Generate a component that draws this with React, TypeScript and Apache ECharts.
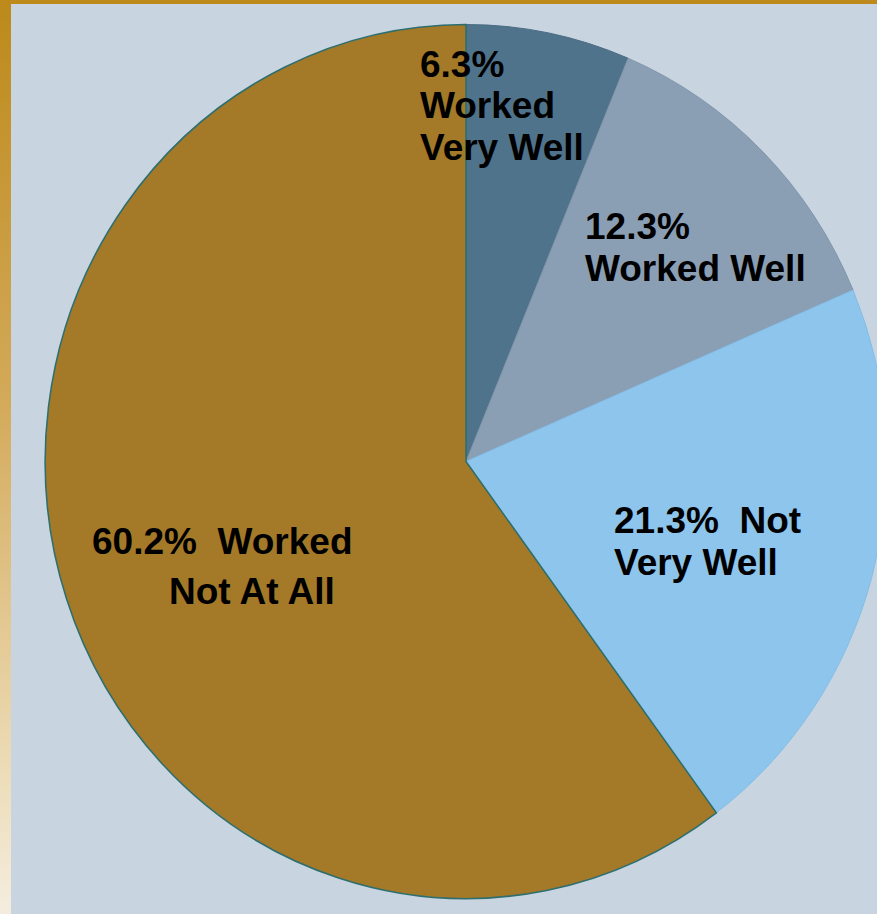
import React, { useEffect, useRef } from "react";
import * as echarts from "echarts";

const categories = ["Worked Very Well", "Worked Well", "Not Very Well", "Worked Not At All"];
const values = [6.3, 12.3, 21.3, 60.2];
const sliceColors = ["#4F738B", "#8A9EB4", "#8DC5EC", "#A47927"];
const sliceStrokes = ["#47697F", "#8296AB", "#84BDE6", "#2D6E6E"];
const labelLines = [
  ["6.3%", "Worked", "Very Well"],
  ["12.3%", "Worked Well"],
  ["21.3%  Not", "Very Well"],
  ["60.2%  Worked", "Not At All"],
];

// layout (pixels)
const CX = 466;
const CY = 461.5;
const RX = 421;
const RY = 437;
const labelPos = [
  { x: 420, ys: [64, 105.5, 147] },
  { x: 585, ys: [226, 268] },
  { x: 614, ys: [520, 562] },
  { x: 92, ys: [541.5, 591.5], xs: [92, 169] },
];

export default function App() {
  const ref = useRef<HTMLDivElement>(null);
  useEffect(() => {
    if (!ref.current) return;
    const chart = echarts.init(ref.current, null, { renderer: "svg" });
    const total = values.reduce((a, b) => a + b, 0);
    const starts: number[] = [];
    let acc = 0;
    values.forEach((v) => {
      starts.push(acc);
      acc += v;
    });

    const labelGraphics: any[] = [];
    labelLines.forEach((lines, i) => {
      lines.forEach((t, j) => {
        const p: any = labelPos[i];
        labelGraphics.push({
          type: "text",
          x: p.xs ? p.xs[j] : p.x,
          y: p.ys[j],
          z: 100,
          style: {
            text: t,
            fill: "#000",
            font: "bold 37px 'Liberation Sans', Arial, sans-serif",
            textAlign: "left",
            textVerticalAlign: "middle",
          },
        });
      });
    });

    chart.setOption({
      animation: false,
      backgroundColor: "#C8D4E0",
      series: [
        {
          type: "custom",
          coordinateSystem: "none",
          data: categories.map((c, i) => ({ name: c, value: values[i] })),
          renderItem: (params: any, api: any) => {
            const i = params.dataIndex;
            const v = api.value(0);
            const start = -Math.PI / 2 + (starts[i] / total) * Math.PI * 2;
            const end = start + (v / total) * Math.PI * 2;
            return {
              type: "group",
              x: CX,
              y: CY,
              scaleX: RX / RY,
              children: [
                {
                  type: "sector",
                  shape: { cx: 0, cy: 0, r0: 0, r: RY, startAngle: start, endAngle: end, clockwise: true },
                  style: {
                    fill: sliceColors[i],
                    stroke: sliceStrokes[i],
                    lineWidth: i === 3 ? 1.6 : 1,
                  },
                },
              ],
            };
          },
        },
      ],
      graphic: [
        {
          type: "rect",
          shape: { x: 0, y: 0, width: 877, height: 4 },
          style: { fill: "#BD8A1B" },
          z: 50,
        },
        {
          type: "rect",
          shape: { x: 0, y: 0, width: 11, height: 914 },
          style: {
            fill: new echarts.graphic.LinearGradient(0, 0, 0, 1, [
              { offset: 0, color: "#BC891A" },
              { offset: 0.45, color: "#D4AB5C" },
              { offset: 0.85, color: "#EDDDB9" },
              { offset: 1, color: "#F4EDDF" },
            ]),
          },
          z: 50,
        },
        ...labelGraphics,
      ],
    });
    return () => chart.dispose();
  }, []);
  return (
    <div
      ref={ref}
      style={{ position: "fixed", left: 0, top: 0, width: 877, height: 914 }}
    />
  );
}
